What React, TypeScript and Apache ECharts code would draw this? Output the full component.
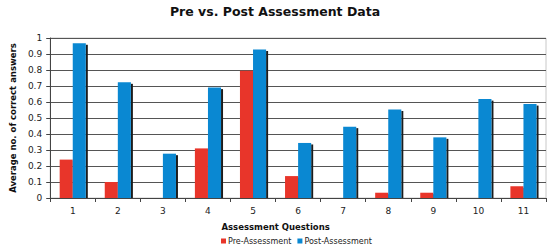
import React, { useEffect, useRef } from "react";
import * as echarts from "echarts";

const categories = ["1", "2", "3", "4", "5", "6", "7", "8", "9", "10", "11"];
const preValues = [0.24, 0.1, 0, 0.31, 0.795, 0.137, 0, 0.033, 0.033, 0, 0.073];
const postValues = [0.967, 0.723, 0.277, 0.69, 0.928, 0.344, 0.446, 0.553, 0.379, 0.618, 0.587];
const seriesNames = ["Pre-Assessment", "Post-Assessment"];
const colors = ["#e8352a", "#0a88d2"];

const FONT = "DejaVu Sans, Verdana, sans-serif";

function makeRender(side: number, color: string) {
  return (params: any, api: any) => {
    const idx = api.value(0);
    const val = api.value(1);
    const top = api.coord([idx, val]);
    const base = api.coord([idx, 0]);
    const catW = api.size([1, 0])[0];
    const bw = catW * 0.29;
    const x = side === 0 ? top[0] - bw : top[0];
    const h = base[1] - top[1];
    if (h <= 0) return { type: "group", children: [] };
    return {
      type: "group",
      children: [
        {
          type: "rect",
          shape: { x: x + bw, y: top[1] + 1.5, width: 2, height: h - 1.5 },
          style: { fill: "#1c1c1c" },
        },
        {
          type: "rect",
          shape: { x: x, y: top[1], width: bw, height: h },
          style: { fill: color },
        },
      ],
    };
  };
}

export default function App() {
  const ref = useRef<HTMLDivElement>(null);
  useEffect(() => {
    const chart = echarts.init(ref.current!, null, { renderer: "svg" });
    chart.setOption({
      animation: false,
      backgroundColor: "#ffffff",
      title: {
        text: "Pre vs. Post Assessment Data",
        left: "center",
        top: 0,
        textStyle: { fontFamily: FONT, fontSize: 12.5, fontWeight: "bold", color: "#111" },
      },
      legend: {
        top: 232,
        left: 216,
        itemWidth: 5,
        itemHeight: 5,
        itemGap: 6,
        icon: "rect",
        textStyle: { fontFamily: FONT, fontSize: 8, color: "#222", padding: [0, 0, 0, -3] },
        data: seriesNames,
      },
      grid: { left: 37, right: 4, top: 38, bottom: 51, show: true, borderColor: "#c8c8c8", borderWidth: 1 },
      xAxis: {
        type: "category",
        data: categories,
        name: "Assessment Questions",
        nameLocation: "middle",
        nameGap: 24,
        nameTextStyle: {
          fontFamily: FONT,
          fontSize: 8.5,
          fontWeight: "bold",
          color: "#111",
          padding: [0, 45, 0, 0],
        },
        axisLine: { lineStyle: { color: "#444" } },
        axisTick: { show: true, length: 4, lineStyle: { color: "#444" } },
        axisLabel: { fontFamily: FONT, fontSize: 9, color: "#222", margin: 8 },
      },
      yAxis: {
        type: "value",
        min: 0,
        max: 1,
        interval: 0.1,
        name: "Average no. of correct answers",
        nameLocation: "middle",
        nameGap: 26,
        nameTextStyle: { fontFamily: FONT, fontSize: 8.5, fontWeight: "bold", color: "#111" },
        axisLine: { show: true, lineStyle: { color: "#444" } },
        axisTick: { show: true, length: 4, lineStyle: { color: "#444" } },
        axisLabel: {
          fontFamily: FONT,
          fontSize: 9,
          color: "#222",
          margin: 8,
          formatter: (v: number) => String(Math.round(v * 10) / 10),
        },
        splitLine: { lineStyle: { color: "#555", width: 1 } },
      },
      series: [
        {
          name: seriesNames[0],
          type: "custom",
          itemStyle: { color: colors[0] },
          encode: { x: 0, y: 1 },
          data: preValues.map((v, i) => [i, v]),
          renderItem: makeRender(0, colors[0]),
          z: 2,
        },
        {
          name: seriesNames[1],
          type: "custom",
          itemStyle: { color: colors[1] },
          encode: { x: 0, y: 1 },
          data: postValues.map((v, i) => [i, v]),
          renderItem: makeRender(1, colors[1]),
          z: 3,
        },
      ],
    });
    return () => chart.dispose();
  }, []);
  return <div ref={ref} style={{ width: 550, height: 249, position: "absolute", left: 0, top: 0 }} />;
}
